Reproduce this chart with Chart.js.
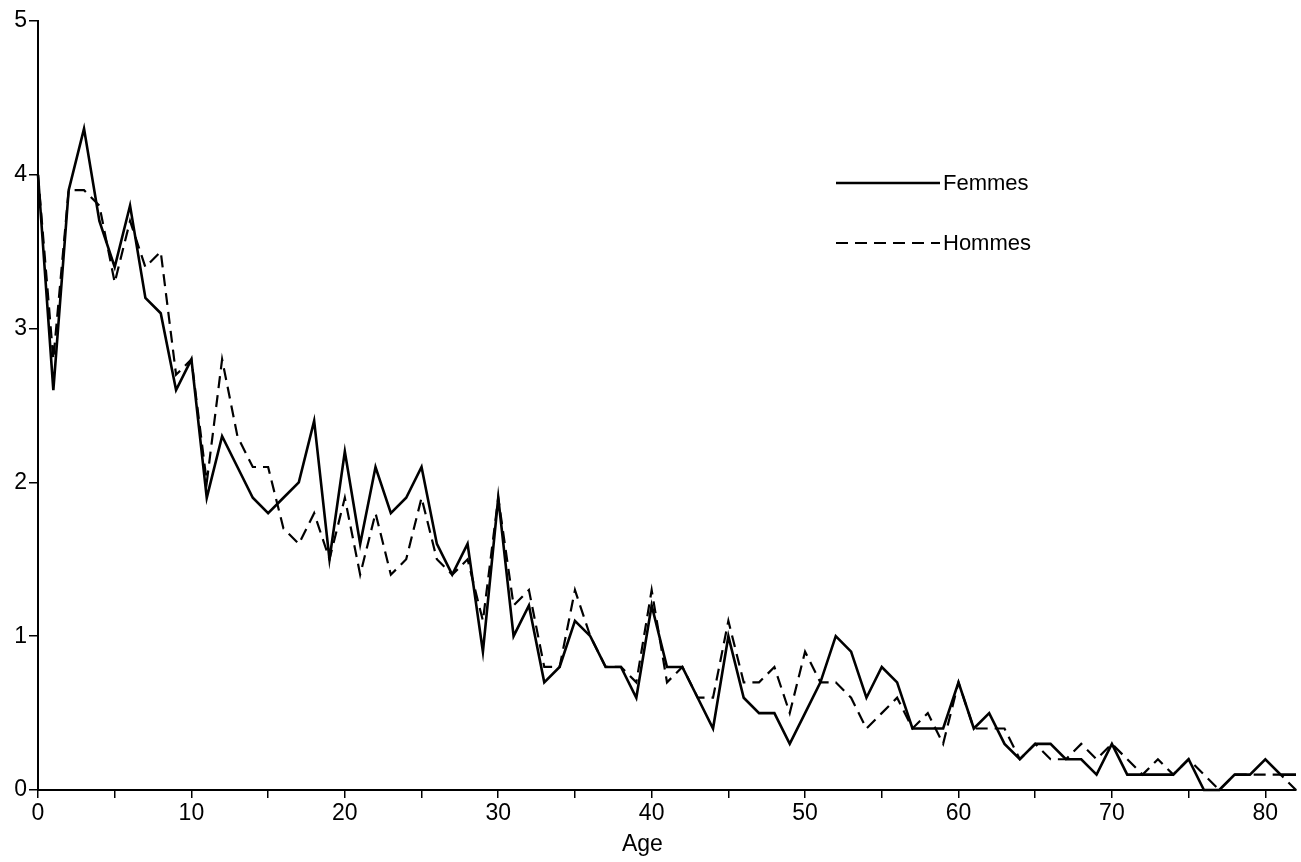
<!DOCTYPE html>
<html>
<head>
<meta charset="utf-8">
<script src="https://cdn.jsdelivr.net/npm/chart.js@4.4.0/dist/chart.umd.min.js"></script>
<style>
  html, body { margin: 0; padding: 0; background: #fff; }
</style>
</head>
<body>
<canvas id="ageChart" width="1301" height="862"></canvas>
<script>
// age in years, 0 .. 82
const ages = [];
for (let a = 0; a <= 82; a++) ages.push(a);

const femmes = [
  4.0, 2.6, 3.9, 4.3, 3.7, 3.4, 3.8, 3.2, 3.1, 2.6,
  2.8, 1.9, 2.3, 2.1, 1.9, 1.8, 1.9, 2.0, 2.4, 1.5,
  2.2, 1.6, 2.1, 1.8, 1.9, 2.1, 1.6, 1.4, 1.6, 0.9,
  1.9, 1.0, 1.2, 0.7, 0.8, 1.1, 1.0, 0.8, 0.8, 0.6,
  1.2, 0.8, 0.8, 0.6, 0.4, 1.0, 0.6, 0.5, 0.5, 0.3,
  0.5, 0.7, 1.0, 0.9, 0.6, 0.8, 0.7, 0.4, 0.4, 0.4,
  0.7, 0.4, 0.5, 0.3, 0.2, 0.3, 0.3, 0.2, 0.2, 0.1,
  0.3, 0.1, 0.1, 0.1, 0.1, 0.2, 0.0, 0.0, 0.1, 0.1,
  0.2, 0.1, 0.1
];

const hommes = [
  4.0, 2.8, 3.9, 3.9, 3.8, 3.3, 3.7, 3.4, 3.5, 2.7,
  2.8, 2.0, 2.8, 2.3, 2.1, 2.1, 1.7, 1.6, 1.8, 1.5,
  1.9, 1.4, 1.8, 1.4, 1.5, 1.9, 1.5, 1.4, 1.5, 1.1,
  1.9, 1.2, 1.3, 0.8, 0.8, 1.3, 1.0, 0.8, 0.8, 0.7,
  1.3, 0.7, 0.8, 0.6, 0.6, 1.1, 0.7, 0.7, 0.8, 0.5,
  0.9, 0.7, 0.7, 0.6, 0.4, 0.5, 0.6, 0.4, 0.5, 0.3,
  0.7, 0.4, 0.4, 0.4, 0.2, 0.3, 0.2, 0.2, 0.3, 0.2,
  0.3, 0.2, 0.1, 0.2, 0.1, 0.2, 0.1, 0.0, 0.1, 0.1,
  0.1, 0.1, 0.0
];

const seriesNames = ['Femmes', 'Hommes'];
const xTitle = 'Age';
const xMax = 82;
const yMax = 5;

const fontFamily = '"Liberation Sans", Arial, Helvetica, sans-serif';

function toPoints(values) {
    return values.map((v, i) => ({ x: ages[i], y: v }));
}

// legend drawn by hand, it sits inside the plot on the right
const legendBox = {
    id: 'legendBox',
    afterDraw(chart) {
        const ctx = chart.ctx;
        const rows = [183, 243];
        ctx.save();
        chart.data.datasets.forEach((ds, i) => {
            const y = rows[i];
            ctx.beginPath();
            ctx.setLineDash(ds.borderDash || []);
            ctx.lineWidth = ds.borderWidth;
            ctx.strokeStyle = '#000';
            ctx.moveTo(836, y);
            ctx.lineTo(940, y);
            ctx.stroke();
            ctx.setLineDash([]);
            ctx.fillStyle = '#000';
            ctx.font = '22px ' + fontFamily;
            ctx.textBaseline = 'middle';
            ctx.fillText(ds.label, 943, y + 1);
        });

        // x title sits a bit left of the centre in the original
        const xs = chart.scales.x;
        ctx.font = '23px ' + fontFamily;
        ctx.textAlign = 'center';
        ctx.textBaseline = 'middle';
        ctx.fillText(xTitle, xs.getPixelForValue(39.4), 845);
        ctx.restore();
    }
};

const ctx = document.getElementById('ageChart').getContext('2d');

const ageChart = new Chart(ctx, {
    type: 'line',
    data: {
        datasets: [
            { label: seriesNames[0], data: toPoints(femmes), borderColor: '#000', borderWidth: 2.6, pointRadius: 0, tension: 0, fill: false, clip: false },
            { label: seriesNames[1], data: toPoints(hommes), borderColor: '#000', borderWidth: 2.2, borderDash: [12, 7], pointRadius: 0, tension: 0, fill: false, clip: false }
        ]
    },
    options: {
        responsive: false,
        animation: false,
        layout: { padding: { top: 21, right: 5, left: 0, bottom: 0 } },
        plugins: { legend: { display: false }, tooltip: { enabled: false } },
        scales: {
            x: {
                type: 'linear', min: 0, max: xMax,
                border: { color: '#000', width: 2 },
                grid: { drawOnChartArea: false, drawTicks: true, tickLength: 8, color: '#000', lineWidth: 1.5 },
                ticks: {
                    stepSize: 5, includeBounds: false, autoSkip: false, maxRotation: 0,
                    color: '#000', padding: 2, font: { family: fontFamily, size: 23 },
                    callback: v => (v % 10 === 0 ? v : '')
                },
                afterFit: s => { s.height = 72; }
            },
            y: {
                min: 0, max: yMax,
                border: { color: '#000', width: 2 },
                grid: { drawOnChartArea: false, drawTicks: true, tickLength: 9, color: '#000', lineWidth: 1.5 },
                ticks: { stepSize: 1, color: '#000', padding: 2, font: { family: fontFamily, size: 23 } },
                afterFit: s => { s.width = 38; }
            }
        }
    },
    plugins: [legendBox]
});
</script>
</body>
</html>
